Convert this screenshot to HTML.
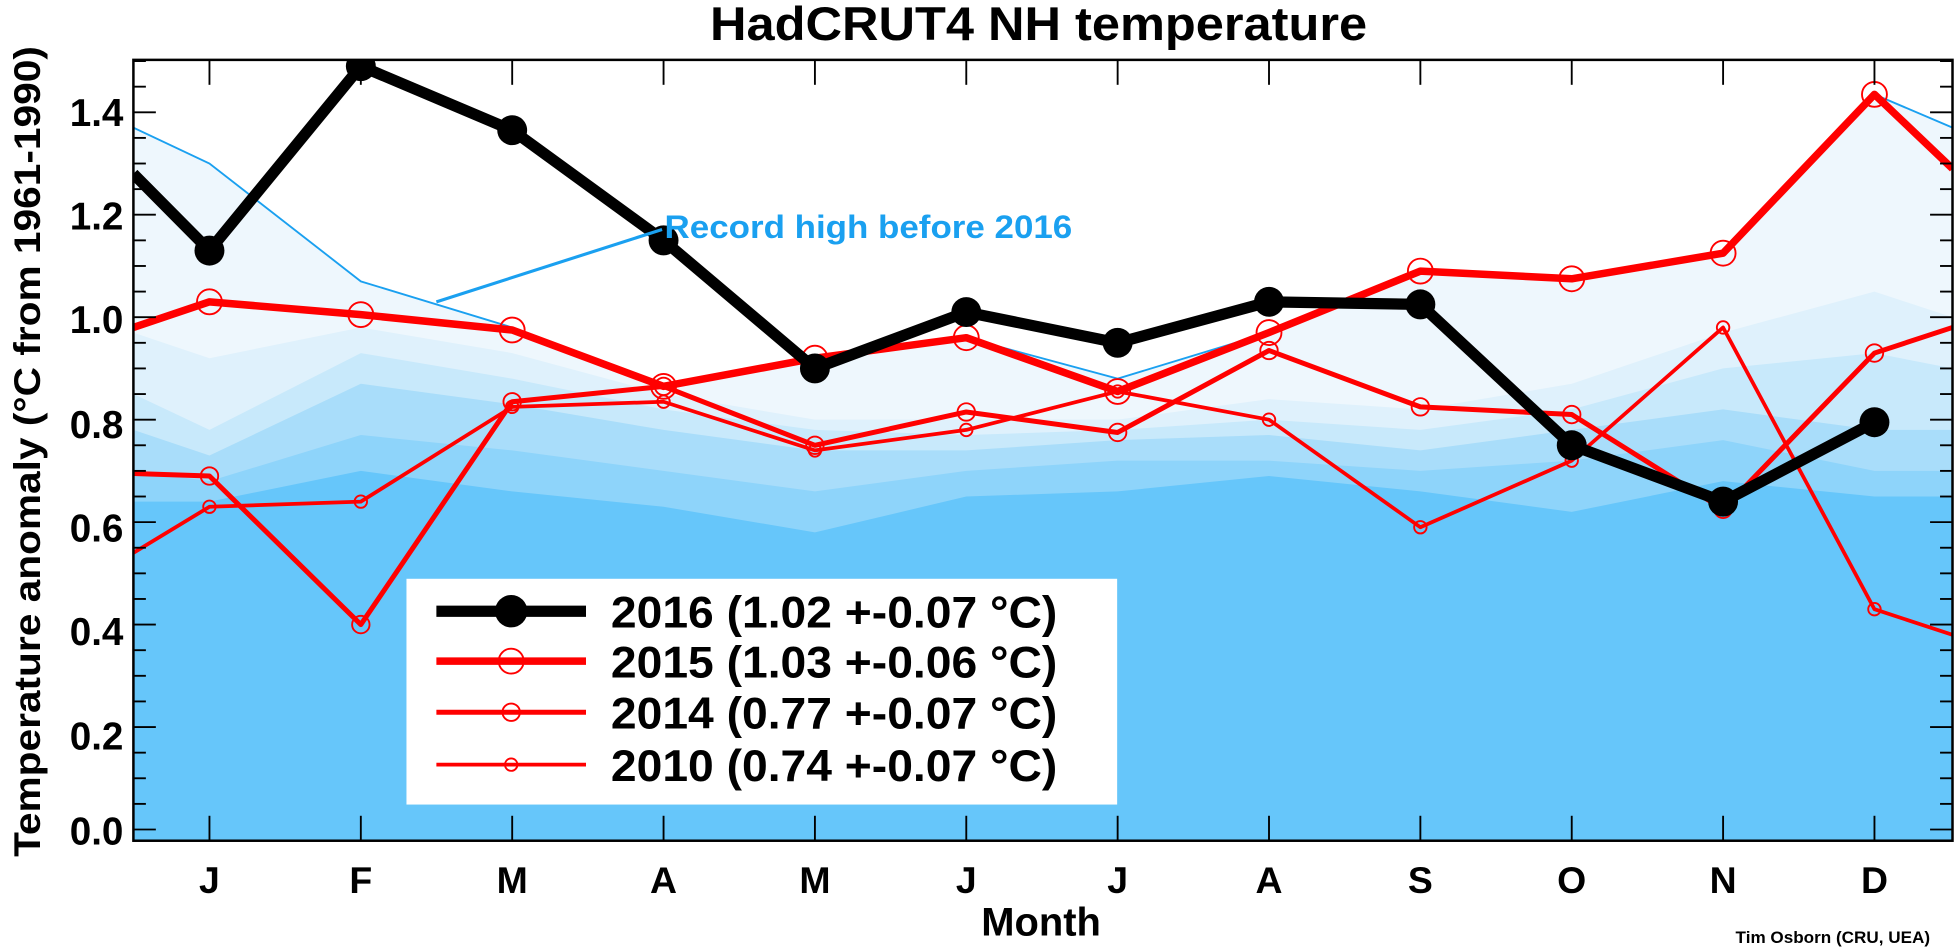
<!DOCTYPE html>
<html><head><meta charset="utf-8"><style>
html,body{margin:0;padding:0;background:#fff;}
svg{display:block;}
text{font-family:"Liberation Sans",Arial,sans-serif;font-weight:bold;}
</style></head><body>
<svg id="s" width="1955" height="948" viewBox="0 0 1568 760" preserveAspectRatio="none" xmlns="http://www.w3.org/2000/svg">
<defs><clipPath id="c"><rect x="107" y="48" width="1459" height="626"/></clipPath></defs>
<rect width="1568" height="760" fill="#fff"/>
<g id="bands" clip-path="url(#c)"></g>
<g id="series" clip-path="url(#c)"></g>
<g id="ticks"></g>
<rect x="107" y="48" width="1459" height="626" fill="none" stroke="#000" stroke-width="2"/>
<text x="833" y="32" font-size="38" text-anchor="middle" textLength="527" lengthAdjust="spacingAndGlyphs">HadCRUT4 NH temperature</text>
<text transform="translate(32,362) rotate(-90)" font-size="30" text-anchor="middle" textLength="650" lengthAdjust="spacingAndGlyphs">Temperature anomaly (°C from 1961-1990)</text>
<g font-size="31" text-anchor="end">
<text x="99" y="101">1.4</text><text x="99" y="184">1.2</text><text x="99" y="267">1.0</text>
<text x="99" y="351">0.8</text><text x="99" y="434">0.6</text><text x="99" y="517">0.4</text>
<text x="99" y="601">0.2</text><text x="99" y="677">0.0</text>
</g>
<g font-size="30" text-anchor="middle" id="months"></g>
<text x="835" y="750" font-size="32" text-anchor="middle" textLength="96" lengthAdjust="spacingAndGlyphs">Month</text>
<text x="1548" y="756" font-size="13" text-anchor="end" textLength="156" lengthAdjust="spacingAndGlyphs">Tim Osborn (CRU, UEA)</text>
<line x1="350" y1="242" x2="531" y2="184" stroke="#1aa0f0" stroke-width="2.5"/>
<text x="533" y="191" font-size="26" fill="#1aa0f0" textLength="327" lengthAdjust="spacingAndGlyphs">Record high before 2016</text>
<rect x="326" y="464" width="570" height="181" fill="#fff"/>
<line x1="350" y1="490" x2="470" y2="490" stroke="#000" stroke-width="9"/><circle cx="410" cy="490" r="13" fill="#000"/>
<line x1="350" y1="530" x2="470" y2="530" stroke="#f00" stroke-width="6"/><circle cx="410" cy="530" r="10" fill="none" stroke="#f00" stroke-width="1.5"/>
<line x1="350" y1="571" x2="470" y2="571" stroke="#f00" stroke-width="4"/><circle cx="410" cy="571" r="7" fill="none" stroke="#f00" stroke-width="1.5"/>
<line x1="350" y1="613" x2="470" y2="613" stroke="#f00" stroke-width="3"/><circle cx="410" cy="613" r="5" fill="none" stroke="#f00" stroke-width="1.5"/>
<g font-size="36">
<text x="490" y="503" textLength="358" lengthAdjust="spacingAndGlyphs">2016 (1.02 +-0.07 °C)</text>
<text x="490" y="543" textLength="358" lengthAdjust="spacingAndGlyphs">2015 (1.03 +-0.06 °C)</text>
<text x="490" y="584" textLength="358" lengthAdjust="spacingAndGlyphs">2014 (0.77 +-0.07 °C)</text>
<text x="490" y="626" textLength="358" lengthAdjust="spacingAndGlyphs">2010 (0.74 +-0.07 °C)</text>
</g>
</svg>
<script>
var NS="http://www.w3.org/2000/svg";
function Y(v){return 665-410.7*v;}
function X(m){return 168+121.4*(m-1);}
function el(t,a,p){var e=document.createElementNS(NS,t);for(var k in a)e.setAttribute(k,a[k]);p.appendChild(e);return e;}
function pts(arr,l,r){var p=[[107,Y(l)]];arr.forEach(function(v,i){p.push([X(i+1),Y(v)]);});p.push([1566,Y(r)]);return p;}
var bands=document.getElementById('bands');
var bdefs=[
["#eef7fd",[1.30,1.07,0.98,0.87,0.92,0.96,0.88,0.97,1.09,1.075,1.125,1.435],1.37,1.37],
["#dff1fc",[0.92,0.98,0.93,0.85,0.80,0.80,0.80,0.84,0.82,0.87,0.97,1.05],0.97,1.0],
["#c8e9fb",[0.78,0.93,0.88,0.82,0.78,0.77,0.78,0.80,0.78,0.82,0.90,0.93],0.85,0.9],
["#a9ddfa",[0.73,0.87,0.83,0.78,0.74,0.74,0.76,0.77,0.74,0.78,0.82,0.78],0.78,0.78],
["#8ed4fa",[0.68,0.77,0.74,0.70,0.66,0.70,0.72,0.72,0.70,0.72,0.76,0.70],0.70,0.70],
["#66c6fa",[0.64,0.70,0.66,0.63,0.58,0.65,0.66,0.69,0.66,0.62,0.68,0.65],0.64,0.65]];
bdefs.forEach(function(b){var p=pts(b[1],b[2],b[3]);var d="M107,680 "+p.map(function(q){return "L"+q[0]+","+q[1];}).join(" ")+" L1566,680 Z";el('path',{d:d,fill:b[0]},bands);});
var rp=pts(bdefs[0][1],1.37,1.37);
el('polyline',{points:rp.map(function(q){return q.join(",")}).join(" "),fill:"none",stroke:"#1aa0f0","stroke-width":1.5},bands);
var S=document.getElementById('series');
function line(arr,l,r,col,w,rad,fill){var p=pts(arr,l,r);el('polyline',{points:p.map(function(q){return q.join(",")}).join(" "),fill:"none",stroke:col,"stroke-width":w,"stroke-linejoin":"round"},S);
arr.forEach(function(v,i){if(v==null)return;el('circle',{cx:X(i+1),cy:Y(v),r:rad,fill:fill?col:"none",stroke:col,"stroke-width":1.5},S);});}
line([0.63,0.64,0.825,0.835,0.74,0.78,0.855,0.80,0.59,0.72,0.98,0.43],0.54,0.38,"#f00",3,5,false);
line([0.69,0.40,0.835,0.865,0.75,0.815,0.775,0.935,0.825,0.81,0.625,0.93],0.695,0.98,"#f00",4,7,false);
line([1.03,1.005,0.975,0.865,0.92,0.96,0.855,0.97,1.09,1.075,1.125,1.435],0.98,1.29,"#f00",6,10,false);
(function(){var a=[1.13,1.49,1.365,1.15,0.90,1.01,0.95,1.03,1.025,0.75,0.64,0.795];var p=[[107,Y(1.28)]];a.forEach(function(v,i){p.push([X(i+1),Y(v)]);});
el('polyline',{points:p.map(function(q){return q.join(",")}).join(" "),fill:"none",stroke:"#000","stroke-width":9,"stroke-linejoin":"round"},S);
a.forEach(function(v,i){el('circle',{cx:X(i+1),cy:Y(v),r:12,fill:"#000"},S);});})();
var T=document.getElementById('ticks');
for(var i=0;i<=30;i++){var v=i*0.05;var y=Y(v);if(y<48)break;var L=(i%4==0)?18:10;
el('line',{x1:107,y1:y,x2:107+L,y2:y,stroke:"#000","stroke-width":1.5},T);el('line',{x1:1566,y1:y,x2:1566-L,y2:y,stroke:"#000","stroke-width":1.5},T);}
var M="JFMAMJJASOND",mg=document.getElementById('months');
for(var m=1;m<=12;m++){var x=X(m);el('line',{x1:x,y1:48,x2:x,y2:68,stroke:"#000","stroke-width":1.5},T);el('line',{x1:x,y1:674,x2:x,y2:654,stroke:"#000","stroke-width":1.5},T);
var t=el('text',{x:x,y:716},mg);t.textContent=M[m-1];}
</script>
</body></html>
